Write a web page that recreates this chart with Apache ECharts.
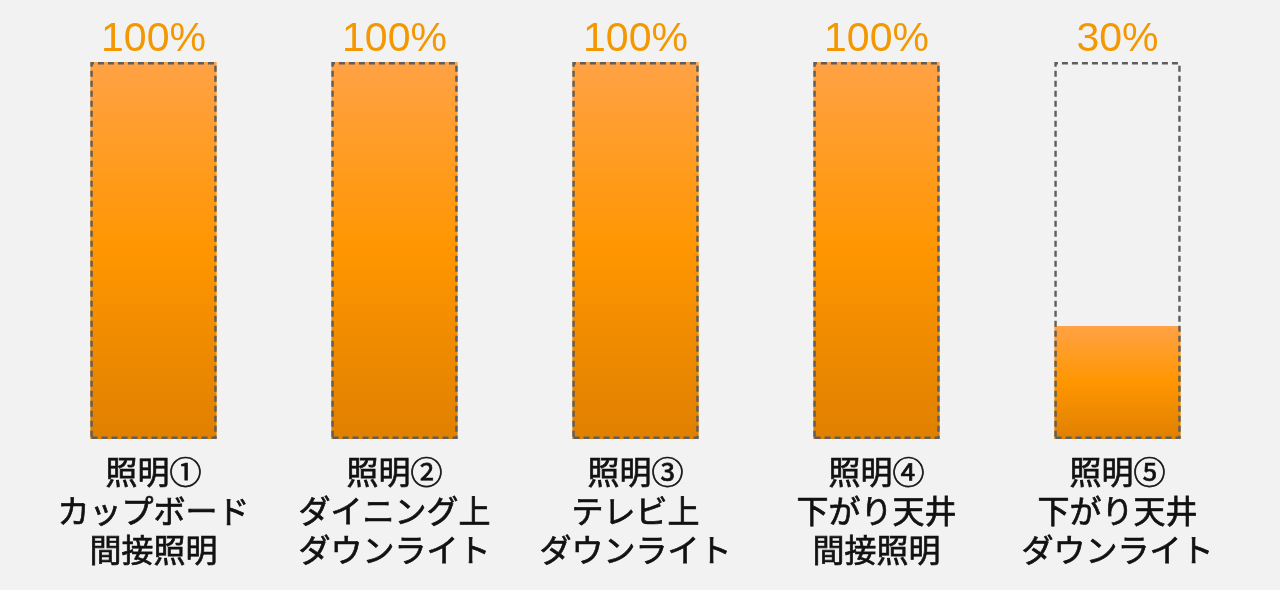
<!DOCTYPE html>
<html><head><meta charset="utf-8">
<script src="https://cdn.jsdelivr.net/npm/echarts@6/dist/echarts.min.js"></script>
<style>html,body{margin:0;padding:0;background:#f2f2f2;}#c{width:1280px;height:590px;}</style>
</head><body><div id="c"></div>
<script>
const categories = ['照明①\nカップボード\n間接照明','照明②\nダイニング上\nダウンライト','照明③\nテレビ上\nダウンライト','照明④\n下がり天井\n間接照明','照明⑤\n下がり天井\nダウンライト'];
const values = [100, 100, 100, 100, 30];
const maxValues = [100, 100, 100, 100, 100];

const chart = echarts.init(document.getElementById('c'));
chart.setOption({
  backgroundColor: '#f2f2f2',
  animation: false,
  grid: {left: 33, right: 42, top: 62, bottom: 151},
  xAxis: {
    type: 'category', data: categories,
    axisLine: {show: false}, axisTick: {show: false},
    axisLabel: {color: '#111', fontSize: 32, lineHeight: 39, margin: 13, fontWeight: 'normal',
      textBorderColor: '#111', textBorderWidth: 0.7,
      fontFamily: '"Noto Sans CJK JP", sans-serif', interval: 0}
  },
  yAxis: {type: 'value', min: 0, max: 100, show: false, splitLine: {show: false}},
  series: [
    {
      type: 'bar', data: values, barWidth: '52.4%', z: 2,
      itemStyle: {
        color: new echarts.graphic.LinearGradient(0, 0, 0, 1, [
          {offset: 0, color: '#ffa245'},
          {offset: 0.5, color: '#ff9600'},
          {offset: 1, color: '#e08000'}
        ])
      }
    },
    {
      type: 'bar', data: maxValues, barWidth: '52.4%', barGap: '-100%', z: 3,
      itemStyle: {color: 'rgba(0,0,0,0)', borderColor: '#5e5e5e', borderWidth: 2.4, borderType: [6, 4]},
      label: {
        show: true, position: 'top', distance: 2,
        formatter: p => values[p.dataIndex] + '%',
        color: '#f39800', fontSize: 41, fontFamily: '"Liberation Sans", Arial, sans-serif'
      }
    }
  ]
});
</script></body></html>
